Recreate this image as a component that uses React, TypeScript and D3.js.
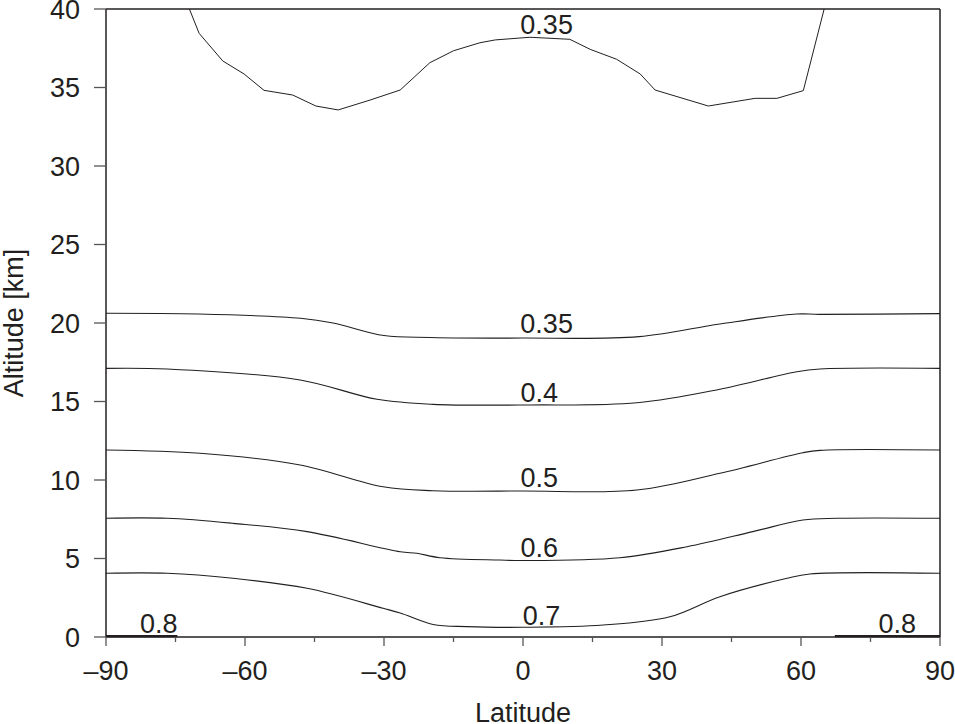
import * as d3 from 'd3';
import React from 'react';

// contour lines (latitude in degrees, altitude in km)
const lat035Top = [-72, -69.9, -64.8, -60.2, -55.9, -49.7, -44.7, -39.9, -33, -26.5, -20.1, -15, -9.3, -6, 1.5, 10.1, 14.5, 20.2, 25.3, 28.5, 40, 50.1, 54.8, 60.5, 65];
const alt035Top = [40, 38.45, 36.69, 35.86, 34.82, 34.52, 33.82, 33.57, 34.2, 34.84, 36.58, 37.34, 37.85, 38.03, 38.2, 38.07, 37.43, 36.8, 35.86, 34.84, 33.82, 34.31, 34.31, 34.8, 40];

const lat035 = [-90, -70, -48, -41, -30, -20, 0, 25, 42.5, 59, 64, 90];
const alt035 = [20.62, 20.57, 20.3, 20.0, 19.2, 19.08, 19.04, 19.13, 19.94, 20.57, 20.55, 20.6];

const lat04 = [-90, -76.8, -48.1, -31.5, -19.4, 1.5, 24.6, 42.5, 59.1, 64.1, 90];
const alt04 = [17.11, 17.07, 16.37, 15.14, 14.82, 14.78, 14.92, 15.78, 16.9, 17.07, 17.11];

const lat05 = [-90, -69.7, -48.1, -30.2, -19.4, 0, 24.6, 42.5, 60.4, 64.1, 90];
const alt05 = [11.91, 11.7, 10.96, 9.57, 9.32, 9.3, 9.36, 10.43, 11.74, 11.89, 11.91];

const lat06 = [-90, -76.8, -62.6, -46.6, -26.5, -22.9, -17.9, -5, 0, 20.9, 35.4, 49.6, 60.4, 67.8, 90];
const alt06 = [7.56, 7.56, 7.24, 6.71, 5.43, 5.33, 5.05, 4.9, 4.87, 5.05, 5.75, 6.71, 7.45, 7.56, 7.56];

const lat07 = [-90, -76.8, -62.6, -46.6, -30.2, -26.5, -19.4, -12.1, 0, 17.3, 31.7, 42.5, 57, 61.9, 90];
const alt07 = [4.06, 4.06, 3.74, 3.1, 1.83, 1.53, 0.8, 0.66, 0.62, 0.76, 1.29, 2.57, 3.74, 4.01, 4.06];

const lat08Left = [-90, -74.6];
const alt08Left = [0.05, 0.05];
const lat08Right = [67.3, 90];
const alt08Right = [0.05, 0.05];

const labelText = ['0.35', '0.35', '0.4', '0.5', '0.6', '0.7', '0.8', '0.8'];
const labelLat = [5.1, 5.1, 3.5, 3.5, 3.5, 4.0, -78.6, 80.8];
const labelAlt = [38.4, 19.34, 14.99, 9.53, 5.11, 0.76, 0.27, 0.24];

const xTicks = [-90, -60, -30, 0, 30, 60, 90];
const xMinorTicks = [-75, -45, -15, 15, 45, 75];
const yTicks = [0, 5, 10, 15, 20, 25, 30, 35, 40];

const W = 955;
const H = 724;
const margin = { top: 9, right: 15, bottom: 87, left: 106 };
const font = '"Liberation Sans", Arial, Helvetica, sans-serif';
const ink = '#231f20';

const zip = (a: number[], b: number[]) => a.map((v, i) => [v, b[i]] as [number, number]);

const App: React.FC = () => {
  const x = d3.scaleLinear().domain([-90, 90]).range([margin.left, W - margin.right]);
  const y = d3.scaleLinear().domain([0, 40]).range([H - margin.bottom, margin.top]);

  const straight = d3.line<[number, number]>().x(d => x(d[0])).y(d => y(d[1]));
  const smooth = d3.line<[number, number]>().x(d => x(d[0])).y(d => y(d[1])).curve(d3.curveCatmullRom.alpha(0.5));

  const smoothLines = [zip(lat035, alt035), zip(lat04, alt04), zip(lat05, alt05), zip(lat06, alt06), zip(lat07, alt07)];
  const bottomLines = [zip(lat08Left, alt08Left), zip(lat08Right, alt08Right)];

  const x0 = x(-90), x1 = x(90), y0 = y(0), y1 = y(40);

  return (
    <svg width={W} height={H} style={{ position: 'absolute', left: 0, top: 0, background: '#fff' }}>
      {/* contours */}
      <path d={straight(zip(lat035Top, alt035Top)) ?? ''} fill="none" stroke={ink} strokeWidth={1} />
      {smoothLines.map((pts, i) => (
        <path key={i} d={smooth(pts) ?? ''} fill="none" stroke={ink} strokeWidth={1.1} />
      ))}
      {bottomLines.map((pts, i) => (
        <path key={'b' + i} d={straight(pts) ?? ''} fill="none" stroke={ink} strokeWidth={2.2} />
      ))}
      {labelText.map((t, i) => (
        <text key={'l' + i} x={x(labelLat[i])} y={y(labelAlt[i])} textAnchor="middle"
          fontFamily={font} fontSize={27} fill={ink}>{t}</text>
      ))}

      {/* frame */}
      <line x1={x0} x2={x0} y1={y1} y2={y0} stroke={ink} strokeWidth={1.5} />
      <line x1={x1} x2={x1} y1={y1} y2={y0} stroke={ink} strokeWidth={1.5} />
      <line x1={x0} x2={x1} y1={y1} y2={y1} stroke={ink} strokeWidth={1.5} />
      <line x1={x0} x2={x1} y1={y0} y2={y0} stroke={ink} strokeWidth={1.5} />

      {/* y axis */}
      {yTicks.map(t => (
        <g key={'y' + t}>
          <line x1={x0 - 12} x2={x0} y1={y(t)} y2={y(t)} stroke="#555" strokeWidth={1.3} />
          <text x={x0 - 26} y={y(t)} dy="0.36em" textAnchor="end" fontFamily={font} fontSize={27} fill={ink}>{t}</text>
        </g>
      ))}

      {/* x axis */}
      {xTicks.map(t => (
        <g key={'x' + t}>
          <line x1={x(t)} x2={x(t)} y1={y0} y2={y0 + 9} stroke="#555" strokeWidth={1.3} />
          <text x={x(t)} y={y0 + 43} textAnchor="middle" fontFamily={font} fontSize={27} fill={ink}>
            {t < 0 ? '\u2013' + Math.abs(t) : t}
          </text>
        </g>
      ))}
      {xMinorTicks.map(t => (
        <line key={'m' + t} x1={x(t)} x2={x(t)} y1={y0} y2={y0 + 5} stroke="#555" strokeWidth={1.3} />
      ))}

      <text x={x(0)} y={722} textAnchor="middle" fontFamily={font} fontSize={27} fill={ink}>Latitude</text>
      <text transform={`translate(23, ${(y0 + y1) / 2}) rotate(-90)`} textAnchor="middle"
        fontFamily={font} fontSize={27} fill={ink}>Altitude [km]</text>
    </svg>
  );
};

export default App;
